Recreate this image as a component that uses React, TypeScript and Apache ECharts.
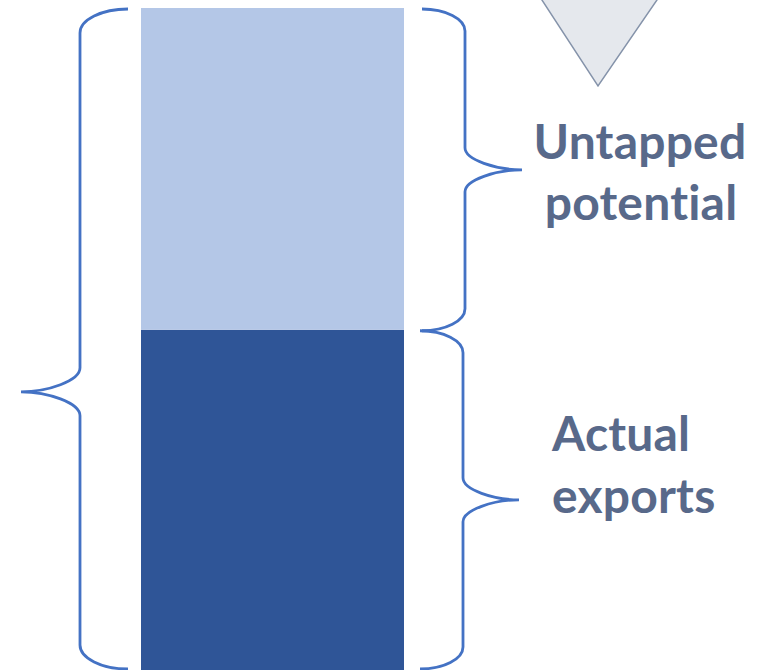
import React, { useEffect, useRef } from "react";
import * as echarts from "echarts";

const categories = ["Exports"];
const actualExports = [51.4];
const untappedPotential = [48.6];
const labelTop = ["Untapped", "potential"];
const labelBottom = ["Actual", "exports"];

const BRACE = "#4472c4";
const TEXT = "#58698a";

function leftBrace(x: number, yT: number, yB: number, frac: number, endDx: number, tipDx: number) {
  const ex = x + endDx;
  const tx = x - tipDx;
  const ty = yT + (yB - yT) * frac;
  const r = 24;
  return [
    `M ${ex} ${yT}`,
    `C ${ex - endDx * 0.55} ${yT}, ${x} ${yT + r * 0.45}, ${x} ${yT + r}`,
    `L ${x} ${ty - r}`,
    `C ${x} ${ty - r * 0.45}, ${tx + tipDx * 0.45} ${ty}, ${tx} ${ty}`,
    `C ${tx + tipDx * 0.45} ${ty}, ${x} ${ty + r * 0.45}, ${x} ${ty + r}`,
    `L ${x} ${yB - r}`,
    `C ${x} ${yB - r * 0.45}, ${ex - endDx * 0.55} ${yB}, ${ex} ${yB}`,
  ].join(" ");
}

function rightBrace(x: number, yT: number, yB: number, frac: number, endDx: number, tipDx: number) {
  const ex = x - endDx;
  const tx = x + tipDx;
  const ty = yT + (yB - yT) * frac;
  const r = 22;
  return [
    `M ${ex} ${yT}`,
    `C ${ex + endDx * 0.55} ${yT}, ${x} ${yT + r * 0.45}, ${x} ${yT + r}`,
    `L ${x} ${ty - r}`,
    `C ${x} ${ty - r * 0.45}, ${tx - tipDx * 0.45} ${ty}, ${tx} ${ty}`,
    `C ${tx - tipDx * 0.45} ${ty}, ${x} ${ty + r * 0.45}, ${x} ${ty + r}`,
    `L ${x} ${yB - r}`,
    `C ${x} ${yB - r * 0.45}, ${ex + endDx * 0.55} ${yB}, ${ex} ${yB}`,
  ].join(" ");
}

export default function App() {
  const ref = useRef<HTMLDivElement>(null);
  useEffect(() => {
    document.body.style.margin = "0";
    const chart = echarts.init(ref.current!, null, { renderer: "svg" });
    const total = actualExports[0] + untappedPotential[0];
    const textStyle = {
      fill: TEXT,
      fontFamily: "Lato",
      fontWeight: "bold",
      fontSize: 48,
      verticalAlign: "middle",
    };
    chart.setOption({
      animation: false,
      grid: { left: 141, top: 8, width: 263, height: 662 },
      xAxis: { type: "category", data: categories, show: false },
      yAxis: { type: "value", min: 0, max: 100, show: false },
      series: [
        {
          type: "bar",
          stack: "s",
          data: actualExports,
          barWidth: "100%",
          itemStyle: { color: "#2f5597" },
        },
        {
          type: "bar",
          stack: "s",
          data: untappedPotential,
          barWidth: "100%",
          itemStyle: { color: "#b4c7e7" },
        },
        {
          type: "custom",
          data: [[0, 0, actualExports[0], total]],
          encode: { x: 0, y: [1, 2, 3] },
          z: 5,
          clip: false,
          renderItem: (_p: any, api: any) => {
            const pB = api.coord([0, api.value(1)]);
            const pM = api.coord([0, api.value(2)]);
            const pT = api.coord([0, api.value(3)]);
            const half = api.size([1, 0])[0] / 2;
            const left = pB[0] - half;
            const right = pB[0] + half;
            const yT = pT[1] + 1;
            const yB = pB[1] - 1;
            const yM = pM[1] + 1;
            const style = { stroke: BRACE, lineWidth: 2.8, fill: "none" };
            return {
              type: "group",
              children: [
                { type: "path", shape: { pathData: leftBrace(left - 61, yT, yB, 0.58, 48, 59) }, style },
                { type: "path", shape: { pathData: rightBrace(right + 61, yT, yM, 0.5, 43, 57) }, style },
                { type: "path", shape: { pathData: rightBrace(right + 59, yM, yB, 0.5, 43, 56) }, style },
              ],
            };
          },
        },
      ],
      graphic: [
        {
          type: "polygon",
          shape: { points: [[540, -3], [659, -3], [598, 86]] },
          style: { fill: "#e5e8ed", stroke: "#8593aa", lineWidth: 1.5 },
        },
        { type: "text", x: 640, y: 140, style: { ...textStyle, text: labelTop[0], align: "center" } },
        { type: "text", x: 641, y: 201, style: { ...textStyle, text: labelTop[1], align: "center" } },
        { type: "text", x: 552, y: 432, style: { ...textStyle, text: labelBottom[0], align: "left" } },
        { type: "text", x: 552, y: 494, style: { ...textStyle, text: labelBottom[1], align: "left" } },
      ],
    });
    return () => chart.dispose();
  }, []);
  return (
    <>
      <style>{`#root text, text { font-variant-ligatures: none !important; font-feature-settings: "liga" 0, "clig" 0, "dlig" 0, "rlig" 0, "calt" 0 !important; letter-spacing: 0.2px !important; text-rendering: optimizeSpeed !important; }`}</style>
      <div ref={ref} style={{ position: "absolute", left: 0, top: 0, width: 759, height: 670 }} />
    </>
  );
}
